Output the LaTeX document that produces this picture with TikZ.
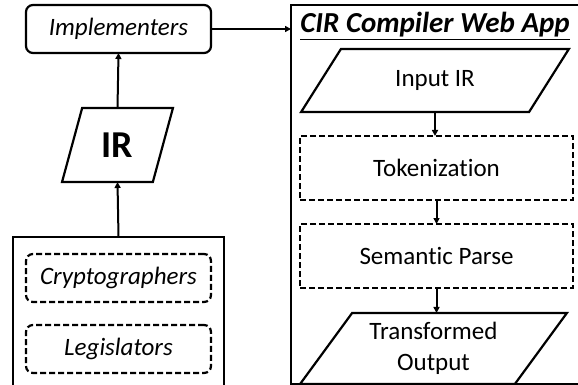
\documentclass[tikz,border=0pt]{standalone}
\usepackage{fontspec}
\setmainfont{Carlito}[Ligatures=NoCommon]
\usetikzlibrary{shapes.geometric,arrows.meta,positioning}

\begin{document}
\begin{tikzpicture}[
    x=1pt, y=-1pt,
    every node/.style={inner sep=0pt, outer sep=0pt},
    module/.style={rectangle, draw, line width=2.2pt, minimum width=185pt, minimum height=48pt, font=\fontsize{25}{28}\selectfont\itshape, text centered, align=center},
    actor/.style={module, rounded corners=7pt},
    member/.style={actor, dash pattern=on 6pt off 3pt},
    stage/.style={module, dash pattern=on 6pt off 3pt, minimum width=273pt, minimum height=64pt, font=\fontsize{25}{28}\selectfont},
    data/.style={trapezium, trapezium stretches=true, draw, line width=2.2pt, align=center, font=\fontsize{25}{31}\selectfont},
    frame/.style={rectangle, draw, line width=2.4pt},
    arrow/.style={-{Triangle[length=6pt,width=6pt]}, line width=2pt}
]
\useasboundingbox (0,0) rectangle (578,385);
\clip (0,0) rectangle (578,385);

% Left column: who writes the IR
\node[frame, minimum width=211pt, minimum height=190pt] (users) at (118.5,332) {};
\node[member] (crypt) at (118.5,278) {Cryptographers};
\node[member] (legis) at (118.5,349) {Legislators};
\node[data, trapezium left angle=70, trapezium right angle=110, minimum width=111pt, minimum height=74pt, font=\fontsize{38}{40}\selectfont\bfseries] (ir) at (117.5,145) {IR};
\node[actor] (impl) at (118.5,29) {Implementers};

% Right column: the web app
\node[frame, minimum width=309pt, minimum height=379pt] (app) at (445.5,194.5) {};
\node[font=\fontsize{29}{31}\selectfont\bfseries\itshape] (title) at (435,26) {\underline{CIR Compiler Web App}};
\node[data, trapezium left angle=50, trapezium right angle=130, minimum width=268pt, minimum height=63pt] (inir) at (435,80.5) {Input IR};
\node[stage] (tok) at (436.5,168) {Tokenization};
\node[stage] (sem) at (436.5,256) {Semantic Parse};
\node[data, trapezium left angle=52, trapezium right angle=128, minimum width=267pt, minimum height=71pt] (out) at (433.5,348.5) {Transformed\\Output};

% Arrows
\draw[arrow] (users.north) -- (ir.south);
\draw[arrow] (ir.north) -- (impl.south);
\draw[arrow] (impl.east) -- (impl.east -| app.west);
\draw[arrow] (inir.south) -- (inir.south |- tok.north);
\draw[arrow] (tok.south) -- (sem.north);
\draw[arrow] (sem.south) -- (sem.south |- out.north);

\end{tikzpicture}
\end{document}
